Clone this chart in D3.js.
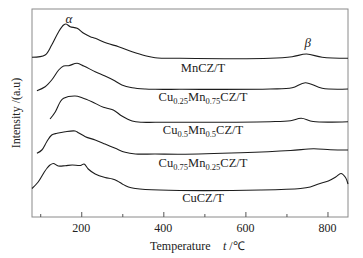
<!DOCTYPE html>
<html>
<head>
<meta charset="utf-8">
<script src="https://cdn.jsdelivr.net/npm/d3@7"></script>
<style>
  body { margin: 0; background: #fff; }
  svg { display: block; font-family: "Times New Roman", "Liberation Serif", serif; }
</style>
</head>
<body>
<svg id="chart" width="363" height="258"></svg>
<script>
// TPR curves, temperature (°C) and intensity (a.u., curves stacked)
const mnT = [80, 112, 128, 145, 157, 163, 173, 190, 206, 222, 234, 263, 291, 324, 356, 380, 440, 660, 714, 749, 787, 850];
const mnV = [159.7, 162, 172, 185.3, 192, 193, 190.3, 188.7, 183.7, 180.3, 178.7, 173.7, 170.3, 165.3, 161.3, 159.3, 158.7, 158.7, 160.3, 163, 159.7, 158.7];

const cu25T = [92, 112, 128, 145, 157, 169, 190, 206, 234, 258, 278, 299, 324, 356, 380, 440, 660, 714, 746, 787, 850];
const cu25V = [126.3, 130.3, 137, 147, 151, 151.3, 153.7, 151, 145.3, 141, 137, 132, 129.3, 128, 127.7, 127.7, 128, 129.3, 134.3, 128.7, 128];

const cu50T = [124, 137, 149, 157, 185, 202, 226, 254, 278, 299, 324, 348, 380, 660, 710, 736, 765, 850];
const cu50V = [98, 105.3, 115.3, 118.7, 121, 119.3, 115.3, 109.7, 107, 101, 96, 94.7, 94.7, 95.3, 96.3, 98.7, 95.5, 95.3];

const cu75T = [92, 104, 116, 128, 141, 161, 185, 193, 210, 234, 258, 283, 307, 332, 380, 440, 588, 710, 766, 807, 850];
const cu75V = [63.7, 67, 75.3, 82, 83.7, 85.3, 86, 84.3, 80.3, 77, 73, 68.7, 64.7, 63, 63, 62.7, 64.2, 66.5, 68.3, 67.3, 67];

const cuT = [80, 95, 110, 117, 124, 132, 144, 161, 178, 198, 207, 217, 234, 258, 276, 288, 300, 315, 332, 356, 440, 637, 734, 758, 778, 802, 820, 833, 844, 850];
const cuV = [28.5, 35, 45, 49, 52, 53.5, 51, 51.3, 52, 51.5, 53, 48, 43, 39.5, 38, 36, 33, 30, 28.5, 27.5, 26.5, 27, 28.5, 30, 33, 36, 40, 43.5, 39.5, 33];

const majorTicks = [200, 400, 600, 800];
const minorTicks = [100, 300, 500, 700];

// label parts: [text, isSub]
const labels = [
  { y: 145, parts: [["MnCZ/T", false]] },
  { y: 116, parts: [["Cu", false], ["0.25", true], ["Mn", false], ["0.75", true], ["CZ/T", false]] },
  { y: 83, parts: [["Cu", false], ["0.5", true], ["Mn", false], ["0.5", true], ["CZ/T", false]] },
  { y: 50, parts: [["Cu", false], ["0.75", true], ["Mn", false], ["0.25", true], ["CZ/T", false]] },
  { y: 15, parts: [["CuCZ/T", false]] }
];

const series = [
  [mnT, mnV], [cu25T, cu25V], [cu50T, cu50V], [cu75T, cu75V], [cuT, cuV]
];

const svg = d3.select("#chart");
const plotLeft = 32, plotRight = 348, plotTop = 9, plotBottom = 217;

const x = d3.scaleLinear().domain([80, 850]).range([plotLeft, plotRight]);
const y = d3.scaleLinear().domain([0, 208]).range([plotBottom, plotTop]);

// frame
svg.append("rect")
  .attr("x", plotLeft).attr("y", plotTop)
  .attr("width", plotRight - plotLeft).attr("height", plotBottom - plotTop)
  .attr("fill", "none").attr("stroke", "#8a8a8a").attr("stroke-width", 1);

// inward ticks
svg.append("g")
  .attr("transform", `translate(0,${plotBottom})`)
  .call(d3.axisTop(x).tickValues(majorTicks).tickSize(5).tickFormat(""))
  .call(g => g.select(".domain").remove())
  .call(g => g.selectAll("line").attr("stroke", "#555"));

svg.append("g")
  .attr("transform", `translate(0,${plotBottom})`)
  .call(d3.axisTop(x).tickValues(minorTicks).tickSize(3).tickFormat(""))
  .call(g => g.select(".domain").remove())
  .call(g => g.selectAll("line").attr("stroke", "#555"));

svg.append("g")
  .selectAll("text")
  .data(majorTicks)
  .enter()
  .append("text")
    .attr("x", d => x(d))
    .attr("y", 232)
    .attr("text-anchor", "middle")
    .attr("font-size", 12)
    .attr("fill", "#222")
    .text(d => d);

const line = d3.line()
  .x(d => x(d[0]))
  .y(d => y(d[1]))
  .curve(d3.curveCatmullRom.alpha(0.5));

svg.append("g")
  .selectAll("path")
  .data(series)
  .enter()
  .append("path")
    .attr("d", s => line(s[0].map((t, i) => [t, s[1][i]])))
    .attr("fill", "none")
    .attr("stroke", "#1c1c1c")
    .attr("stroke-width", 1.1);

// curve labels
labels.forEach(l => {
  const t = svg.append("text")
    .attr("x", 203)
    .attr("y", y(l.y))
    .attr("text-anchor", "middle")
    .attr("font-size", 12.5)
    .attr("fill", "#222");
  let sub = false;
  l.parts.forEach(p => {
    const span = t.append("tspan").text(p[0]);
    if (p[1]) {
      span.attr("font-size", 8.5).attr("dy", sub ? 0 : 3);
      sub = true;
    } else {
      if (sub) span.attr("dy", -3);
      sub = false;
    }
  });
});

// peak markers
svg.append("text")
  .attr("x", x(170)).attr("y", 23)
  .attr("text-anchor", "middle")
  .attr("font-size", 13).attr("font-style", "italic").attr("fill", "#222")
  .text("α");
svg.append("text")
  .attr("x", x(752)).attr("y", 47)
  .attr("text-anchor", "middle")
  .attr("font-size", 13).attr("font-style", "italic").attr("fill", "#222")
  .text("β");

// axis titles
const xt = svg.append("text")
  .attr("x", 150).attr("y", 250)
  .attr("font-size", 12).attr("fill", "#222");
xt.append("tspan").text("Temperature");
xt.append("tspan").attr("x", 223).attr("font-style", "italic").text("t");
xt.append("tspan").text(" /℃");

svg.append("text")
  .attr("transform", "translate(20,113) rotate(-90)")
  .attr("text-anchor", "middle")
  .attr("font-size", 12).attr("fill", "#222")
  .text("Intensity /(a.u)");
</script>
</body>
</html>
